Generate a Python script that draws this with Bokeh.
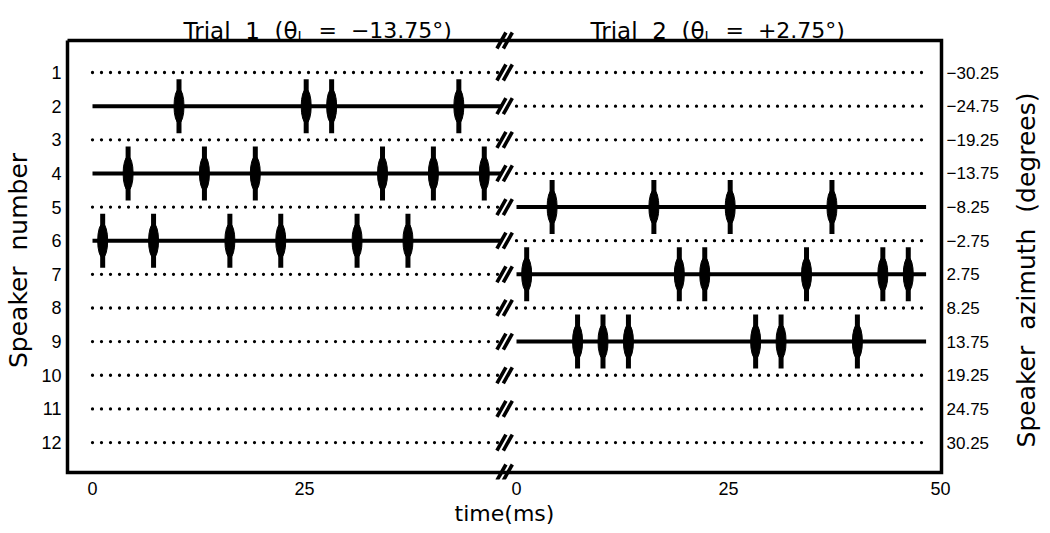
import math
from bokeh.plotting import figure
from bokeh.layouts import row
from bokeh.models import Range1d, FixedTicker, LinearAxis, Label
from bokeh.embed import file_html
from bokeh.resources import INLINE

# ---------------- data ----------------
speaker_numbers = [1, 2, 3, 4, 5, 6, 7, 8, 9, 10, 11, 12]
speaker_azimuths = ["\u221230.25", "\u221224.75", "\u221219.25", "\u221213.75", "\u22128.25", "\u22122.75",
                    "2.75", "8.25", "13.75", "19.25", "24.75", "30.25"]
time_ticks = [0, 25, 50, 75, 100]
time_tick_labels = ["0", "25", "0", "25", "50"]

NB = "\u00a0"
trial_title_heads = ["Trial" + NB * 2 + "1" + NB * 2 + "(\u03b8", "Trial" + NB * 2 + "2" + NB * 2 + "(\u03b8"]
trial_title_tails = [NB * 2 + "=" + NB * 2 + "\u221213.75\u00b0)", NB * 2 + "=" + NB * 2 + "+2.75\u00b0)"]
left_title = "Speaker" + NB * 2 + "number"
right_title = "Speaker" + NB * 2 + "azimuth" + NB * 2 + "(degrees)"
bottom_title = "time(ms)"

trial_duration_ms = 48.3
trial_offsets_ms = [0, 50]

trial1_speaker2_ms = [10.2, 25.2, 28.2, 43.2]
trial1_speaker4_ms = [4.2, 13.2, 19.2, 34.2, 40.2, 46.2]
trial1_speaker6_ms = [1.2, 7.2, 16.2, 22.2, 31.2, 37.2]

trial2_speaker5_ms = [4.2, 16.2, 25.2, 37.2]
trial2_speaker7_ms = [1.2, 19.2, 22.2, 34.2, 43.2, 46.2]
trial2_speaker9_ms = [7.2, 10.2, 13.2, 28.2, 31.2, 40.2]

trial_pulses = [
    {2: trial1_speaker2_ms, 4: trial1_speaker4_ms, 6: trial1_speaker6_ms},
    {5: trial2_speaker5_ms, 7: trial2_speaker7_ms, 9: trial2_speaker9_ms},
]

# ---------------- layout helpers (page px -> data) ----------------
PXX = 8.48    # px per ms   (x=0 at page px 92)
PXY = 33.64   # px per row  (row 1 at page px 72)


def xlab(px):
    return (px - 92) / PXX


def ylab(py):
    return 1 + (py - 72) / PXY


BOX_X0, BOX_X1 = xlab(67), xlab(941)
BOX_Y0, BOX_Y1 = ylab(40), ylab(472)
BREAK_X = 48.6

TICK_FONT = "Liberation Sans"
TITLE_FONT = "DejaVu Sans"


def no_align(f):
    if "frame_align" in f.properties():
        f.frame_align = False
    return f


LEFT_W, RIGHT_W = 36, 42
MAIN_W = 1050 - LEFT_W - RIGHT_W          # main figure starts at page x=36
p = figure(width=MAIN_W, height=533,
           x_range=Range1d(xlab(62), xlab(946)),
           y_range=Range1d(ylab(479), ylab(0)),
           x_axis_type=None, y_axis_type=None,
           output_backend="svg", toolbar_location=None,
           min_border_left=62 - LEFT_W, min_border_right=LEFT_W + MAIN_W - 946,
           min_border_top=0, min_border_bottom=54)
no_align(p)
p.outline_line_color = None
p.background_fill_color = "white"
p.border_fill_color = "white"


# ---------------- axes ----------------
def style_axis(ax, size):
    ax.axis_line_color = None
    ax.major_tick_line_color = None
    ax.minor_tick_line_color = None
    ax.major_tick_out = 0
    ax.major_tick_in = 0
    ax.minor_tick_out = 0
    ax.minor_tick_in = 0
    ax.major_label_text_font = TICK_FONT
    ax.major_label_text_font_size = size
    ax.major_label_text_color = "black"
    ax.axis_label_text_font = TITLE_FONT
    ax.axis_label_text_font_size = "22px"
    ax.axis_label_text_font_style = "normal"
    ax.axis_label_text_color = "black"


xax = LinearAxis(ticker=FixedTicker(ticks=time_ticks),
                 major_label_overrides={t: l for t, l in zip(time_ticks, time_tick_labels)},
                 axis_label=bottom_title)
style_axis(xax, "18px")
xax.major_label_standoff = 2
xax.axis_label_standoff = 3
p.add_layout(xax, "below")

lax = LinearAxis(ticker=FixedTicker(ticks=speaker_numbers),
                 major_label_overrides={s: str(s) for s in speaker_numbers})
style_axis(lax, "18px")
lax.major_label_standoff = 1
p.add_layout(lax, "left")

rax = LinearAxis(ticker=FixedTicker(ticks=speaker_numbers),
                 major_label_overrides={s: a for s, a in zip(speaker_numbers, speaker_azimuths)})
style_axis(rax, "17px")
rax.major_label_standoff = 0
p.add_layout(rax, "right")

# ---------------- frame box ----------------
p.line(x=[BOX_X0, BOX_X1, BOX_X1, BOX_X0, BOX_X0],
       y=[BOX_Y0, BOX_Y0, BOX_Y1, BOX_Y1, BOX_Y0],
       line_color="black", line_width=3.5, line_join="miter")

# ---------------- trial lines ----------------
sol_x0, sol_x1, sol_y = [], [], []
dot_x0, dot_x1, dot_y = [], [], []
pul_x, pul_y = [], []
for off, rows in zip(trial_offsets_ms, trial_pulses):
    for s in speaker_numbers:
        if s in rows:
            sol_x0.append(off); sol_x1.append(off + trial_duration_ms); sol_y.append(s)
            for t in rows[s]:
                pul_x.append(off + t); pul_y.append(s)
        else:
            dot_x0.append(off); dot_x1.append(off + trial_duration_ms); dot_y.append(s)

p.segment(x0=dot_x0, x1=dot_x1, y0=dot_y, y1=dot_y, line_color="black",
          line_width=3.3, line_dash="0 9", line_cap="round")
p.segment(x0=sol_x0, x1=sol_x1, y0=sol_y, y1=sol_y, line_color="black", line_width=4)

# pulses: thin bar + swelling in the middle
half = 27 / PXY
p.segment(x0=pul_x, x1=pul_x, y0=[y - half for y in pul_y], y1=[y + half for y in pul_y],
          line_color="black", line_width=5)
p.ellipse(x=pul_x, y=pul_y, width=10, height=34, width_units="screen", height_units="screen",
          fill_color="black", line_color="black")

# ---------------- break marks "//" ----------------
sx, sy, sep = 4.5 / PXX, 8 / PXY, 3.2 / PXX
bx0, bx1, by0, by1 = [], [], [], []
for yv in [BOX_Y0] + speaker_numbers + [BOX_Y1]:
    for d in (-sep, sep):
        bx0.append(BREAK_X + d - sx); by0.append(yv + sy)
        bx1.append(BREAK_X + d + sx); by1.append(yv - sy)
p.segment(x0=bx0, x1=bx1, y0=by0, y1=by1, line_color="black", line_width=3.6)

# ---------------- titles ----------------
for anchor_px, head, tail in zip([297, 704], trial_title_heads, trial_title_tails):
    ax_ = xlab(anchor_px)
    p.add_layout(Label(x=ax_, y=ylab(30), text=head, text_font=TITLE_FONT, text_font_size="23px",
                       text_align="right", text_baseline="alphabetic", text_color="black"))
    p.add_layout(Label(x=ax_, y=ylab(35), text="L", text_font=TITLE_FONT, text_font_size="14px",
                       text_align="left", text_baseline="alphabetic", text_color="black"))
    p.add_layout(Label(x=ax_, y=ylab(30), text=tail, text_font=TITLE_FONT, text_font_size="22px",
                       text_align="left", text_baseline="alphabetic", text_color="black", x_offset=7))


# ---------------- side figures carrying the vertical axis titles ----------------
def side_title_fig(width, frame_left, top, bottom, title):
    f = figure(width=width, height=533, x_range=Range1d(0, 1), y_range=Range1d(0, 1),
               x_axis_type=None, y_axis_type=None, output_backend="svg", toolbar_location=None,
               min_border_left=frame_left, min_border_right=0,
               min_border_top=top, min_border_bottom=bottom)
    no_align(f)
    f.outline_line_color = None
    f.background_fill_color = None
    f.border_fill_color = None
    ax = LinearAxis(ticker=FixedTicker(ticks=[]), axis_label=title)
    style_axis(ax, "1px")
    ax.axis_label_text_font_size = "25px"
    ax.axis_label_standoff = 0
    f.add_layout(ax, "left")
    return f


left_fig = side_title_fig(LEFT_W, 32, 0, 13, left_title)
right_fig = side_title_fig(RIGHT_W, 1037 - (1050 - RIGHT_W), 6, 0, right_title)

layout = row(left_fig, p, right_fig, spacing=0)
open("out.html", "w").write(file_html(layout, INLINE))
